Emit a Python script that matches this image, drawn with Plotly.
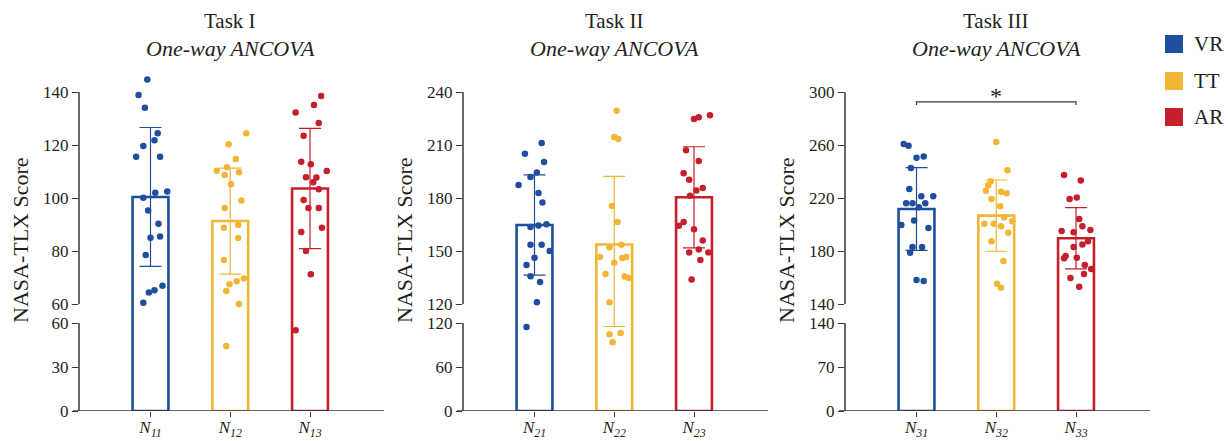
import plotly.graph_objects as go

# ---------------- data ----------------
groups = ["VR", "TT", "AR"]
task_titles = ["Task I", "Task II", "Task III"]
subtitle = "One-way ANCOVA"
x_labels = [
    ["<i>N<sub>11</sub></i>", "<i>N<sub>12</sub></i>", "<i>N<sub>13</sub></i>"],
    ["<i>N<sub>21</sub></i>", "<i>N<sub>22</sub></i>", "<i>N<sub>23</sub></i>"],
    ["<i>N<sub>31</sub></i>", "<i>N<sub>32</sub></i>", "<i>N<sub>33</sub></i>"],
]
y_title = "NASA-TLX Score"

# axis breaks / ticks
breaks = [60, 120, 140]
tops = [140, 240, 300]
lower_ticks = [[0, 30, 60], [0, 60, 120], [0, 70, 140]]
upper_ticks = [[60, 80, 100, 120, 140], [120, 150, 180, 210, 240], [140, 180, 220, 260, 300]]

# means and SDs (VR, TT, AR)
task1_mean = [100.4, 91.3, 103.6]
task1_sd = [26.2, 20.0, 22.7]
task2_mean = [164.7, 153.7, 180.4]
task2_sd = [28.4, 38.5, 28.6]
task3_mean = [211.7, 206.7, 189.6]
task3_sd = [31.3, 26.9, 23.1]

# individual scores and their horizontal jitter (category units)
task1_vr = [144.7, 138.9, 134.1, 124.4, 121.8, 119.6, 115.6, 115.6, 102.5, 102.0,
            100.1, 95.3, 90.3, 85.0, 85.5, 78.5, 66.9, 65.2, 64.3, 60.5]
task1_vr_jit = [-0.04, -0.15, -0.07, 0.09, 0.05, -0.09, -0.18, 0.12, 0.21, 0.06,
                -0.09, -0.03, 0.10, 0.0, 0.12, -0.06, 0.15, 0.05, -0.02, -0.09]
task1_tt = [124.4, 120.3, 114.7, 111.6, 110.3, 109.7, 108.7, 105.2, 99.1, 96.2,
            89.8, 88.8, 84.9, 76.6, 69.6, 68.6, 67.5, 64.9, 60.0, 44.4]
task1_tt_jit = [0.20, -0.02, 0.07, -0.04, -0.17, 0.11, -0.07, 0.01, 0.14, -0.07,
                0.10, -0.08, 0.10, -0.08, 0.17, 0.08, -0.01, -0.05, 0.11, -0.05]
task1_ar = [138.5, 135.1, 132.3, 128.3, 123.5, 113.7, 112.7, 110.2, 107.8, 107.7,
            105.9, 103.3, 99.2, 96.2, 96.2, 88.8, 87.2, 80.0, 71.2, 55.0]
task1_ar_jit = [0.14, 0.05, -0.18, 0.11, -0.08, -0.11, 0.01, 0.21, -0.05, 0.08,
                0.04, 0.11, -0.08, -0.02, 0.11, 0.15, -0.11, -0.05, 0.01, -0.18]

task2_vr = [211.1, 205.1, 200.4, 194.5, 191.9, 187.4, 182.8, 177.5, 163.6, 164.5,
            165.1, 153.6, 153.6, 150.0, 146.2, 142.1, 135.7, 132.5, 121.0, 114.6]
task2_vr_jit = [0.09, -0.12, 0.12, 0.03, -0.05, -0.20, 0.05, 0.10, -0.05, 0.05,
                0.15, -0.05, 0.09, 0.19, 0.0, -0.10, -0.05, 0.07, 0.03, -0.10]
task2_tt = [229.4, 214.5, 213.4, 175.5, 166.4, 152.1, 153.6, 146.6, 146.0, 146.6,
            143.4, 137.0, 135.5, 134.7, 121.0, 104.6, 106.3, 93.6]
task2_tt_jit = [0.03, 0.0, 0.05, -0.03, 0.04, -0.06, 0.09, -0.18, 0.10, 0.15,
                0.0, -0.11, 0.13, 0.18, -0.06, -0.06, 0.08, -0.02]
task2_ar = [226.8, 224.7, 225.7, 207.0, 200.9, 194.0, 190.4, 185.7, 184.2, 181.3,
            166.4, 164.3, 162.3, 156.0, 149.2, 150.8, 149.2, 144.9, 133.8]
task2_ar_jit = [0.20, 0.0, 0.06, -0.10, 0.06, -0.13, -0.06, 0.11, 0.03, -0.05,
                -0.13, -0.19, 0.0, 0.11, -0.06, 0.06, 0.18, 0.08, -0.03]

task3_vr = [260.8, 259.5, 250.4, 251.4, 242.6, 226.8, 221.3, 221.3, 216.0, 216.0,
            216.0, 213.0, 203.1, 199.6, 197.4, 183.0, 183.0, 178.7, 158.1, 157.4]
task3_vr_jit = [-0.16, -0.10, 0.0, 0.09, -0.07, -0.09, 0.06, 0.21, -0.13, -0.05,
                0.11, 0.03, -0.03, -0.19, 0.15, -0.05, 0.07, -0.08, 0.0, 0.09]
task3_tt = [262.3, 240.9, 232.6, 229.6, 225.5, 224.8, 223.5, 219.2, 213.7, 205.4,
            202.4, 200.6, 200.6, 198.6, 193.8, 187.3, 172.5, 155.3, 152.3]
task3_tt_jit = [0.0, 0.14, -0.07, -0.10, -0.13, 0.06, 0.13, -0.06, 0.05, 0.10,
                0.20, -0.15, -0.03, 0.06, 0.15, -0.06, 0.09, 0.01, 0.06]
task3_ar = [237.4, 233.3, 219.2, 220.3, 204.2, 198.6, 195.1, 194.1, 195.8, 187.3,
            185.0, 183.0, 176.2, 174.5, 175.0, 169.4, 166.4, 162.6, 159.6, 153.1]
task3_ar_jit = [-0.15, 0.06, -0.08, 0.01, 0.04, 0.08, -0.18, -0.03, 0.18, 0.15,
                0.08, -0.03, -0.13, -0.15, 0.01, 0.11, 0.19, 0.10, -0.07, 0.04]

# significance bracket in Task III (VR vs AR)
sig_pair = (0, 2)
sig_level = 292.5
sig_tick = 290.2
sig_text = "*"

means = [task1_mean, task2_mean, task3_mean]
sds = [task1_sd, task2_sd, task3_sd]
scores = [[task1_vr, task1_tt, task1_ar], [task2_vr, task2_tt, task2_ar], [task3_vr, task3_tt, task3_ar]]
jitters = [[task1_vr_jit, task1_tt_jit, task1_ar_jit], [task2_vr_jit, task2_tt_jit, task2_ar_jit],
           [task3_vr_jit, task3_tt_jit, task3_ar_jit]]

# ---------------- style / layout ----------------
W, H = 1228, 441
colors = ["#1F4E9E", "#F3B536", "#C41F2A"]
axis_color = "#3A3435"
text_color = "#231F20"
FONT = "Liberation Serif"

panel_x0 = [79, 463, 845]   # px, y-axis line
panel_len = 305             # px
cat0_off = 71.5             # px from axis to first category
cat_step = 79.75            # px between categories
py_zero, py_low_break = 411, 323
py_up_break, py_top_tick, py_up_dom_top = 304, 92, 58


def fx(px):
    return px / W


def fy(py):
    return 1 - py / H


fig = go.Figure()
layout = dict(
    template="none",
    width=W, height=H, autosize=False,
    margin=dict(l=0, r=0, t=0, b=0, pad=0, autoexpand=False),
    paper_bgcolor="white", plot_bgcolor="white", showlegend=False,
    barmode="overlay", font=dict(family=FONT, color=text_color),
)
shapes, annotations = [], []

xr = [-cat0_off / cat_step, (panel_len - cat0_off) / cat_step]

for k in range(3):
    xname = "x" if k == 0 else f"x{k + 1}"
    ylow, ygap, yup = 3 * k + 1, 3 * k + 2, 3 * k + 3
    yn = lambda n: "y" if n == 1 else f"y{n}"
    B, T = breaks[k], tops[k]
    up_top = B + (py_up_break - py_up_dom_top) / (py_up_break - py_top_tick) * (T - B)
    x0 = panel_x0[k]

    layout["xaxis" if k == 0 else f"xaxis{k + 1}"] = dict(
        domain=[fx(x0), fx(x0 + panel_len)], range=xr, anchor=yn(ylow),
        tickmode="array", tickvals=[0, 1, 2], ticktext=x_labels[k],
        ticks="outside", ticklen=5, tickwidth=1.3, tickcolor=axis_color,
        ticklabelstandoff=-4,
        showline=False, showgrid=False, zeroline=False, fixedrange=True, automargin=False,
        tickfont=dict(family=FONT, size=17, color=text_color),
    )
    common_y = dict(anchor=xname, showgrid=False, zeroline=False, showline=False,
                    ticks="outside", ticklen=6, tickwidth=1.3, tickcolor=axis_color,
                    automargin=False,
                    tickfont=dict(family=FONT, size=17, color=text_color), fixedrange=True)
    layout["yaxis" if ylow == 1 else f"yaxis{ylow}"] = dict(
        common_y, domain=[fy(py_zero), fy(py_low_break)], range=[0, B],
        tickmode="array", tickvals=lower_ticks[k])
    layout[f"yaxis{ygap}"] = dict(
        anchor=xname, domain=[fy(py_low_break), fy(py_up_break)], range=[B - 0.5, B + 0.5],
        visible=False, fixedrange=True, automargin=False)
    layout[f"yaxis{yup}"] = dict(
        common_y, domain=[fy(py_up_break), fy(py_up_dom_top)], range=[B, up_top],
        tickmode="array", tickvals=upper_ticks[k])

    # bars + error bars on each of the three axis pieces
    for yi in (ylow, ygap, yup):
        for g in range(3):
            fig.add_trace(go.Bar(
                x=[g], y=[means[k][g]], xaxis=xname, yaxis=yn(yi), width=0.45,
                marker=dict(color="white", line=dict(color=colors[g], width=2.6)),
                error_y=dict(type="data", array=[sds[k][g]], color=colors[g],
                             thickness=1.2, width=11),
                hoverinfo="skip",
            ))
    # points
    for g in range(3):
        vals, jit = scores[k][g], jitters[k][g]
        for yi, keep in ((ylow, lambda v: v < B), (yup, lambda v: v >= B)):
            xs = [g + j for v, j in zip(vals, jit) if keep(v)]
            ys = [v for v in vals if keep(v)]
            if ys:
                fig.add_trace(go.Scatter(
                    x=xs, y=ys, xaxis=xname, yaxis=yn(yi), mode="markers",
                    marker=dict(color=colors[g], size=6.5, line=dict(width=0)),
                    cliponaxis=False, hoverinfo="skip",
                ))

    # axis lines (broken y axis)
    shapes.append(dict(type="line", xref="paper", yref=yn(ylow), x0=fx(x0), x1=fx(x0),
                       y0=0, y1=B, line=dict(color=axis_color, width=1.5)))
    shapes.append(dict(type="line", xref="paper", yref=yn(yup), x0=fx(x0), x1=fx(x0),
                       y0=B, y1=T, line=dict(color=axis_color, width=1.5)))
    shapes.append(dict(type="line", xref="paper", yref=yn(ylow), x0=fx(x0 - 6),
                       x1=fx(x0 + panel_len), y0=0, y1=0,
                       line=dict(color=axis_color, width=1.5)))

    # titles
    cx = fx(x0 + cat0_off + cat_step)
    annotations.append(dict(text=task_titles[k], xref="paper", yref="paper", x=cx, y=fy(21),
                            showarrow=False, xanchor="center", yanchor="middle",
                            font=dict(family=FONT, size=21, color=text_color)))
    annotations.append(dict(text=f"<i>{subtitle}</i>", xref="paper", yref="paper", x=cx, y=fy(48),
                            showarrow=False, xanchor="center", yanchor="middle",
                            font=dict(family=FONT, size=22, color=text_color)))
    annotations.append(dict(text=y_title, xref="paper", yref="paper", x=fx(x0 - 59), y=fy(240),
                            textangle=-90, showarrow=False, xanchor="center", yanchor="middle",
                            font=dict(family=FONT, size=22, color=text_color)))

    if k == 2:
        a, b = sig_pair
        shapes.append(dict(type="path", xref=xname, yref=yn(yup),
                           path=f"M {a},{sig_tick} L {a},{sig_level} L {b},{sig_level} L {b},{sig_tick}",
                           line=dict(color=axis_color, width=1.2)))
        annotations.append(dict(text=sig_text, xref=xname, yref=yn(yup), x=(a + b) / 2, y=sig_level,
                                showarrow=False, xanchor="center", yanchor="bottom", yshift=-9,
                                font=dict(family=FONT, size=24, color=text_color)))

# legend (manual)
leg_y = [44, 81, 117]
for g in range(3):
    shapes.append(dict(type="rect", xref="paper", yref="paper",
                       x0=fx(1165), x1=fx(1183), y0=fy(leg_y[g] + 9), y1=fy(leg_y[g] - 9),
                       fillcolor=colors[g], line=dict(width=0)))
    annotations.append(dict(text=groups[g], xref="paper", yref="paper", x=fx(1192), y=fy(leg_y[g]),
                            showarrow=False, xanchor="left", yanchor="middle",
                            font=dict(family=FONT, size=21, color=text_color)))

layout["shapes"] = shapes
layout["annotations"] = annotations
fig.update_layout(**layout)
fig.write_html(
    "out.html",
    config={"displayModeBar": False},
    post_script="document.body.style.margin='0';document.body.style.padding='0';"
                "document.documentElement.style.overflow='hidden';",
)
